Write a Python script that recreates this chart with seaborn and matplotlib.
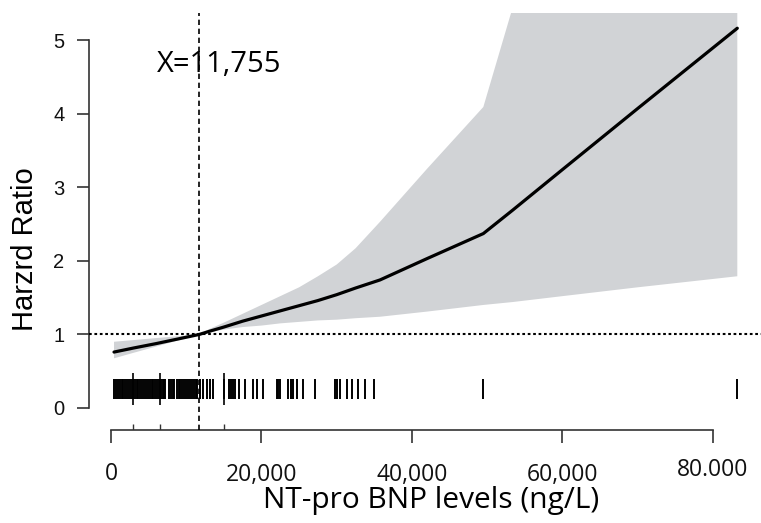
import matplotlib
matplotlib.use("Agg")
import matplotlib.pyplot as plt
import matplotlib.transforms as mtransforms
import numpy as np
import pandas as pd
import seaborn as sns

# ---- data ----
nt_x = [400, 3000, 6000, 9000, 11755, 13000, 15000, 17500, 20000, 22500,
        25000, 27500, 30000, 32500, 35750, 42000, 49480, 53400, 60000,
        70000, 83230]
hr = [0.76, 0.815, 0.875, 0.94, 1.00, 1.04, 1.10, 1.18, 1.25, 1.32,
      1.39, 1.46, 1.54, 1.63, 1.74, 2.03, 2.37, 2.69, 3.24, 4.07, 5.16]
hr_upper = [0.90, 0.923, 0.95, 0.976, 1.00, 1.07, 1.16, 1.28, 1.40, 1.52,
            1.64, 1.79, 1.95, 2.17, 2.53, 3.25, 4.09, 5.45, 8.0, 11.5, 17.0]
hr_lower = [0.675, 0.75, 0.835, 0.92, 1.00, 1.03, 1.065, 1.10, 1.12, 1.15,
            1.17, 1.19, 1.20, 1.22, 1.24, 1.31, 1.40, 1.44, 1.52, 1.64, 1.79]

rug_nt = [400, 650, 900, 1150, 1400, 1650, 1900, 2150, 2400, 2650, 2900,
          3150, 3400, 3650, 3900, 4150, 4400, 4650, 4900, 5150, 5400, 5540,
          5850, 6100, 6350, 6600, 6850, 7100, 7180,
          7710, 7950, 8200, 8330,
          8730, 8980, 9230, 9480, 9730, 9980, 10230, 10480, 10730, 10980,
          11230, 11390,
          11830, 12270, 12720, 13160, 13600,
          15020, 15720, 15950, 16170, 16480, 17050, 17810, 18830, 19440,
          20240, 22020, 22240, 22460, 23560, 23880, 24230, 24680, 25560,
          27110, 29770, 30080, 30430, 31320, 31990, 32870, 33750, 34990,
          49400, 83200]
quartile_nt = [2880, 6510, 15020]
cutoff_nt = 11755
cutoff_label = "X=11,755"

xtick_vals = [0, 20000, 40000, 60000, 80000]
xtick_labels = ["0", "20,000", "40,000", "60,000", "80.000"]
ytick_vals = [0, 1, 2, 3, 4, 5]
ytick_labels = ["0", "1", "2", "3", "4", "5"]
x_title = "NT-pro BNP levels (ng/L)"
y_title = "Harzrd Ratio"

# ---- style ----
sns.set_theme(style="ticks")
plt.rcParams["font.family"] = ["Liberation Sans", "DejaVu Sans"]

W, H = 761, 523
fig = plt.figure(figsize=(W / 100, H / 100), dpi=100)
ax = fig.add_axes([89 / W, (H - 430) / H, (W - 89) / W, (430 - 13) / H])

df = pd.DataFrame({"nt": nt_x, "hr": hr, "lo": hr_lower, "hi": hr_upper})

ax.fill_between(df["nt"], df["lo"], df["hi"], color="#d1d3d6", lw=0, zorder=1)
sns.lineplot(data=df, x="nt", y="hr", color="black", lw=2.3, ax=ax, zorder=4)

ax.axhline(1, color="black", ls=(0, (1.3, 1.3)), lw=1.5, zorder=3)
ax.axvline(cutoff_nt, color="black", ls=(0, (3.2, 2.2)), lw=1.2, zorder=3)

ax.vlines(rug_nt, 0.122, 0.394, color="black", lw=1.4, zorder=3)
ax.vlines(quartile_nt, 0.04, 0.475, color="black", lw=1.2, zorder=3)
sns.rugplot(x=quartile_nt, height=0.015, ax=ax, color="#333333", lw=1.0)

ax.text(14350, 4.67, cutoff_label, ha="center", va="center", fontsize=21,
        family=["Open Sans", "DejaVu Sans"], color="black")

ax.set_xlim(-2924, 86380)
ax.set_ylim(-0.299, 5.367)

for s in ["top", "right"]:
    ax.spines[s].set_visible(False)
ax.spines["left"].set_bounds(0, 5)
ax.spines["bottom"].set_bounds(0, 80000)
for s in ["left", "bottom"]:
    ax.spines[s].set_color("#333333")
    ax.spines[s].set_linewidth(1.2)

ax.set_xticks(xtick_vals)
ax.set_xticklabels(xtick_labels)
ax.set_yticks(ytick_vals)
ax.set_yticklabels(ytick_labels)
ax.tick_params(axis="y", length=8.6, width=1.2, pad=9, labelsize=14.5,
               color="#333333", labelcolor="#111111")
ax.tick_params(axis="x", length=9.4, width=1.2, pad=14, labelsize=16.5,
               color="#333333", labelcolor="#111111",
               labelfontfamily="Open Sans")

lab = ax.get_xticklabels()[-1]
lab.set_transform(lab.get_transform() +
                  mtransforms.ScaledTranslation(0, 5 / 100, fig.dpi_scale_trans))

ax.set_xlabel(x_title, fontsize=21.5, family=["Open Sans", "DejaVu Sans"],
              color="black")
ax.xaxis.set_label_coords((431 - 89) / 672, (430 - 486) / 417)
ax.set_ylabel(y_title, fontsize=21, color="black")
ax.yaxis.set_label_coords((39 - 89) / 672, (430 - 249) / 417)

fig.savefig("out.png", dpi=100, facecolor="white")
